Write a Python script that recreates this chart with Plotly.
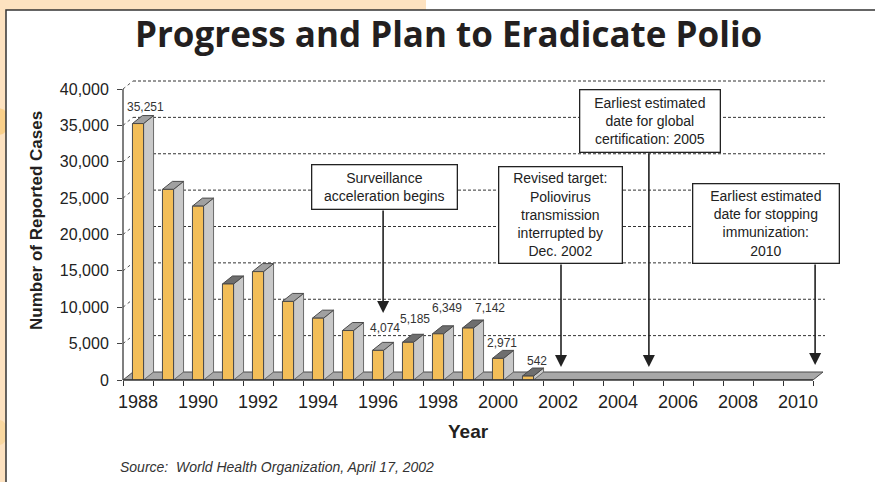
import plotly.graph_objects as go

# ---- data -------------------------------------------------------------
YEARS = list(range(1988, 2002))
CASES = [35251, 26200, 23900, 13200, 14900, 10800, 8500, 6800,
         4074, 5185, 6349, 7142, 2971, 542]
LABELED_YEARS = [1988, 1996, 1997, 1998, 1999, 2000, 2001]
X_TICK_YEARS = list(range(1988, 2011, 2))
Y_TICKS = list(range(0, 40001, 5000))

# ---- geometry / style -------------------------------------------------
W, H = 875, 482
M_L, M_R, M_T, M_B = 123, 50, 78, 102
X_RANGE = [1987.5, 2010.9]
Y_RANGE = [0, 41512]
SLOT_END = 2010.5          # right end of the last year slot / floor
BAR_W = 0.37               # front face width (years)
DX = 1 / 3                 # depth offset, horizontal (years)
DY = 1100                  # depth offset, vertical (cases)

FRONT = "#F3BE58"
SIDE = "#C9C9C9"
TOP_LIGHT = "#A0A0A0"
TOP_DARK = "#6E6E6E"
DARK_TOPS = {1991, 1997, 1998, 1999, 2000, 2001}
EDGE = "#4A4A4A"
FONT = "Liberation Sans, Arial, sans-serif"
INK = "#231F20"

# pixel nudges for the value labels (xshift, yshift)
LABEL_NUDGE = {1988: (7, 17), 1996: (7, 22), 1997: (7, 23), 1998: (9, 26),
               1999: (22, 20), 2000: (4, 15), 2001: (9, 15)}

# call-out boxes: text, box centre x, box top y, box w/h (px), arrow x, arrow start y, arrow tip y
CALLOUTS = [
    dict(text="Surveillance<br>acceleration begins", bx=1996.2, by=29690, w=146, h=45,
         ax=1996.17, ay0=23505, ay1=9210),
    dict(text="Revised target:<br>Poliovirus<br>transmission<br>interrupted by<br>Dec. 2002",
         bx=2002.07, by=29416, w=124, h=97, ax=2002.1, ay0=16082, ay1=1787),
    dict(text="Earliest estimated<br>date for global<br>certification: 2005",
         bx=2005.05, by=40000, w=141, h=63, ax=2005.03, ay0=31340, ay1=1787),
    dict(text="Earliest estimated<br>date for stopping<br>immunization:<br>2010",
         bx=2008.92, by=27079, w=147, h=80, ax=2010.57, ay0=16082, ay1=2062),
]


def px(x):
    """horizontal pixel -> paper coordinate"""
    return (x - M_L) / (W - M_L - M_R)


def py(y):
    """vertical pixel -> paper coordinate"""
    return (H - M_B - y) / (H - M_T - M_B)


shapes = []

# page background strip and white panel
shapes += [
    dict(type="rect", xref="paper", yref="paper", x0=px(-5), x1=px(6), y0=py(-5), y1=py(490),
         fillcolor="#FDE2C0", line=dict(width=0), layer="below"),
    dict(type="rect", xref="paper", yref="paper", x0=px(-5), x1=px(426), y0=py(-5), y1=py(10),
         fillcolor="#FDE2C0", line=dict(width=0), layer="below"),
    dict(type="circle", xref="paper", yref="paper", x0=px(-14), x1=px(10), y0=py(135), y1=py(108),
         fillcolor="#FAD08A", line=dict(width=0), layer="below"),
    dict(type="circle", xref="paper", yref="paper", x0=px(-10), x1=px(8), y0=py(445), y1=py(420),
         fillcolor="#FAD8A0", line=dict(width=0), layer="below"),
    dict(type="rect", xref="paper", yref="paper", x0=px(6), x1=px(890), y0=py(500), y1=py(10),
         fillcolor="white", line=dict(color="#333333", width=1.5), layer="below"),
]

# back-wall gridlines and the dotted diagonals joining them to the axis
for v in Y_TICKS[1:]:
    shapes.append(dict(type="line", xref="x", yref="y", x0=X_RANGE[0] + DX, x1=X_RANGE[1],
                       y0=v + DY, y1=v + DY, line=dict(color="#333333", width=1, dash="3px,2px"),
                       layer="below"))
    shapes.append(dict(type="line", xref="x", yref="y", x0=X_RANGE[0], x1=X_RANGE[0] + DX,
                       y0=v, y1=v + DY, line=dict(color="#555555", width=1, dash="dot"),
                       layer="below"))

# floor
shapes.append(dict(type="path", xref="x", yref="y",
                   path=f"M {X_RANGE[0]},0 L {SLOT_END},0 L {SLOT_END + DX},{DY} "
                        f"L {X_RANGE[0] + DX},{DY} Z",
                   fillcolor="#A8A8A8", line=dict(color=EDGE, width=1), layer="below"))

# side and top faces of each bar
for yr, v in zip(YEARS, CASES):
    x0, x1 = yr - BAR_W / 2, yr + BAR_W / 2
    shapes.append(dict(type="path", xref="x", yref="y",
                       path=f"M {x1},0 L {x1 + DX},{DY} L {x1 + DX},{v + DY} L {x1},{v} Z",
                       fillcolor=SIDE, line=dict(color="#6A6A6A", width=1), layer="below"))
    shapes.append(dict(type="path", xref="x", yref="y",
                       path=f"M {x0},{v} L {x1},{v} L {x1 + DX},{v + DY} L {x0 + DX},{v + DY} Z",
                       fillcolor=TOP_DARK if yr in DARK_TOPS else TOP_LIGHT,
                       line=dict(color=EDGE, width=1), layer="below"))

# axis lines
shapes.append(dict(type="line", xref="paper", yref="y", x0=0, x1=0, y0=0, y1=Y_TICKS[-1],
                   line=dict(color="#555555", width=1.5)))
shapes.append(dict(type="line", xref="x", yref="paper", x0=X_RANGE[0], x1=SLOT_END, y0=0, y1=0,
                   line=dict(color="#333333", width=1.5)))

fig = go.Figure()
fig.add_trace(go.Bar(x=YEARS, y=CASES, width=BAR_W,
                     marker=dict(color=FRONT, line=dict(color=EDGE, width=1)),
                     hoverinfo="x+y"))

annotations = []

# value labels
for yr, v in zip(YEARS, CASES):
    if yr in LABELED_YEARS:
        dxp, dyp = LABEL_NUDGE[yr]
        annotations.append(dict(x=yr, y=v, xref="x", yref="y", text=f"{v:,}", showarrow=False,
                                xshift=dxp, yshift=dyp, xanchor="center", yanchor="middle",
                                font=dict(family=FONT, size=12, color="#333333")))

# call-out boxes with arrows
for c in CALLOUTS:
    annotations.append(dict(x=c["bx"], y=c["by"], xref="x", yref="y", text=c["text"],
                            showarrow=False, xanchor="center", yanchor="top",
                            width=c["w"] - 2, height=c["h"] - 2, align="center", valign="middle",
                            bgcolor="white", bordercolor="#222222", borderwidth=1.3, borderpad=0,
                            font=dict(family=FONT, size=14, color="#222222")))
    annotations.append(dict(x=c["ax"], y=c["ay1"], ax=c["ax"], ay=c["ay0"], xref="x", yref="y",
                            axref="x", ayref="y", text="", showarrow=True, arrowhead=2,
                            arrowsize=1.5, arrowwidth=1.6, arrowcolor="#222222", standoff=0))

# titles and source
annotations += [
    dict(x=px(448), y=py(33), xref="paper", yref="paper", text="<b>Progress and Plan to Eradicate Polio</b>",
         showarrow=False, xanchor="center", yanchor="middle",
         font=dict(family="Open Sans, sans-serif", size=35, color=INK)),
    dict(x=px(36), y=py(221), xref="paper", yref="paper", text="<b>Number of Reported Cases</b>",
         showarrow=False, textangle=-90, xanchor="center", yanchor="middle",
         font=dict(family=FONT, size=17, color=INK)),
    dict(x=px(468), y=py(431), xref="paper", yref="paper", text="<b>Year</b>",
         showarrow=False, xanchor="center", yanchor="middle",
         font=dict(family=FONT, size=19, color=INK)),
    dict(x=px(118), y=py(467), xref="paper", yref="paper",
         text="<i>Source:  World Health Organization, April 17, 2002</i>",
         showarrow=False, xanchor="left", yanchor="middle",
         font=dict(family=FONT, size=14, color="#333333")),
]

fig.update_layout(
    width=W, height=H,
    margin=dict(l=M_L, r=M_R, t=M_T, b=M_B, pad=0),
    paper_bgcolor="white", plot_bgcolor="rgba(0,0,0,0)",
    showlegend=False,
    shapes=shapes, annotations=annotations,
    xaxis=dict(range=X_RANGE, tickmode="array", tickvals=X_TICK_YEARS,
               ticktext=[str(y) for y in X_TICK_YEARS], ticks="", ticklabelstandoff=9,
               tickfont=dict(family=FONT, size=18, color="#222222"),
               showgrid=False, zeroline=False, showline=False, fixedrange=True,
               minor=dict(tickmode="linear", tick0=X_RANGE[0], dtick=1, ticks="outside",
                          ticklen=5, tickwidth=1.3, tickcolor="#333333", showgrid=False)),
    yaxis=dict(range=Y_RANGE, tickmode="array", tickvals=Y_TICKS, tickformat=",",
               ticks="outside", ticklen=5, tickwidth=1.3, tickcolor="#444444",
               ticklabelstandoff=5,
               tickfont=dict(family=FONT, size=16, color="#222222"),
               showgrid=False, zeroline=False, showline=False, fixedrange=True),
)

fig.write_html("out.html")
